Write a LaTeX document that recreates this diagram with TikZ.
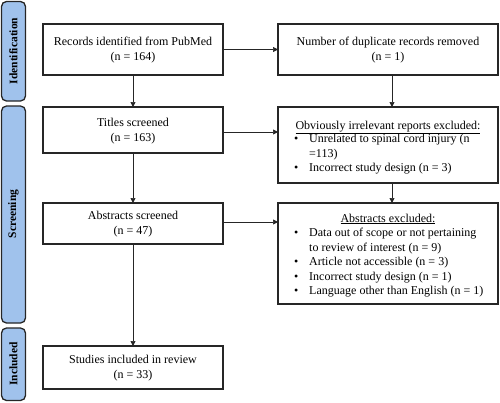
\documentclass[tikz,border=0pt]{standalone}
\usepackage{fontspec}
\setmainfont{Liberation Serif}
\usetikzlibrary{arrows.meta}
\definecolor{barblue}{RGB}{160,194,236}
\begin{document}
\begin{tikzpicture}[x=1pt,y=-1pt,
  bar/.style={draw=black!85,line width=1.3pt,fill=barblue,rounded corners=5pt},
  barlabel/.style={rotate=90,font=\bfseries\fontsize{11.5}{13}\selectfont},
  box/.style={draw=black!85,line width=1.1pt,fill=white},
  txt/.style={align=center,font=\fontsize{12}{15}\selectfont,inner sep=0pt},
  ltxt/.style={align=left,font=\fontsize{12}{14.5}\selectfont,inner sep=0pt},
  arr/.style={draw=black!85,line width=0.7pt,-{Triangle[length=5pt,width=5pt]}}]
\useasboundingbox (0,0) rectangle (500,402);
% side bars
\draw[bar] (1.5,1.5) rectangle (25.5,101);
\node[barlabel] (lid) at (13.5,51) {Identification};
\draw[bar] (1.5,106) rectangle (25.5,323);
\node[barlabel] (lsc) at (13.5,214) {Screening};
\draw[bar] (1.5,328) rectangle (25.5,400.5);
\node[barlabel] (lin) at (13.5,364) {Included};
% boxes
\draw[box] (43,24) rectangle (223,75);
\node[txt] (rec) at (133,50) {Records identified from PubMed\\(n = 164)};
\draw[box] (278,24) rectangle (498,75);
\node[txt] (dup) at (388,50) {Number of duplicate records removed\\(n = 1)};
\draw[box] (43,107) rectangle (223,153);
\node[txt] (tit) at (133,131) {Titles screened\\(n = 163)};
\draw[box] (278,107) rectangle (498,183);
\node[txt,anchor=base] (obvh) at (388,129) {\underline{Obviously irrelevant reports excluded:}};
\node[ltxt,anchor=north west] (obvl) at (294,134) {%
\makebox[15pt][l]{\textbullet}Unrelated to spinal cord injury (n\\
\hspace*{15pt}=113)\\
\makebox[15pt][l]{\textbullet}Incorrect study design (n = 3)};
\draw[box] (43,203) rectangle (223,244);
\node[txt] (abs) at (133,224) {Abstracts screened\\(n = 47)};
\draw[box] (278,203) rectangle (498,304);
\node[txt,anchor=base] (exh) at (388,222) {\underline{Abstracts excluded:}};
\node[ltxt,anchor=north west] (exl) at (294,228) {%
\makebox[15pt][l]{\textbullet}Data out of scope or not pertaining\\
\hspace*{15pt}to review of interest (n = 9)\\
\makebox[15pt][l]{\textbullet}Article not accessible (n = 3)\\
\makebox[15pt][l]{\textbullet}Incorrect study design (n = 1)\\
\makebox[15pt][l]{\textbullet}Language other than English (n = 1)};
\draw[box] (43,346) rectangle (223,389);
\node[txt] (stu) at (133,368) {Studies included in review\\(n = 33)};
% named anchors
\coordinate (recS) at (133,75); \coordinate (titN) at (133,107);
\coordinate (titS) at (133,153); \coordinate (absN) at (133,203);
\coordinate (absS) at (133,244); \coordinate (stuN) at (133,346);
\coordinate (recE) at (223,49.5); \coordinate (dupW) at (278,49.5);
\coordinate (titE) at (223,132); \coordinate (obvW) at (278,132);
\coordinate (absE) at (223,222); \coordinate (exW) at (278,222);
\coordinate (dupS) at (392,75); \coordinate (obvN) at (392,107);
\coordinate (obvS) at (392,183); \coordinate (exN) at (392,203);
\draw[arr] (recS) -- (titN);
\draw[arr] (titS) -- (absN);
\draw[arr] (absS) -- (stuN);
\draw[arr] (recE) -- (dupW);
\draw[arr] (titE) -- (obvW);
\draw[arr] (absE) -- (exW);
\draw[arr] (dupS) -- (obvN);
\draw[arr] (obvS) -- (exN);
\end{tikzpicture}
\end{document}
